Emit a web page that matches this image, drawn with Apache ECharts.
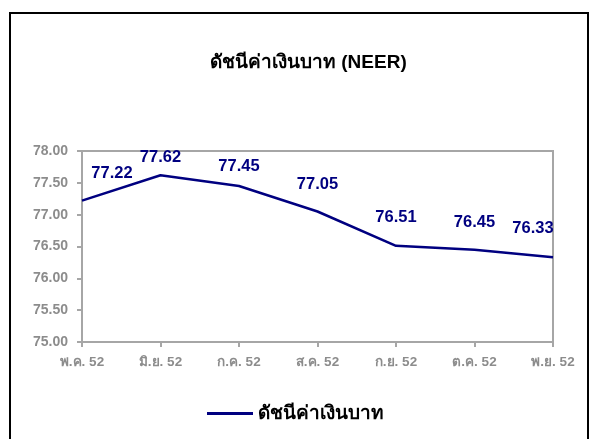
<!DOCTYPE html>
<html>
<head>
<meta charset="utf-8">
<script src="https://cdn.jsdelivr.net/npm/echarts@6/dist/echarts.min.js"></script>
<style>
  html, body { margin: 0; padding: 0; background: #fff; }
  #chart { width: 590px; height: 439px; }
</style>
</head>
<body>
<div id="chart"></div>
<script>
const categories = ['พ.ค. 52', 'มิ.ย. 52', 'ก.ค. 52', 'ส.ค. 52', 'ก.ย. 52', 'ต.ค. 52', 'พ.ย. 52'];
const neer = [77.22, 77.62, 77.45, 77.05, 76.51, 76.45, 76.33];
const seriesName = 'ดัชนีค่าเงินบาท';
const titleText = 'ดัชนีค่าเงินบาท (NEER)';

const font = "Arial, 'Liberation Sans', 'Noto Sans', sans-serif";
// label nudges so the edge labels sit inside the plot like the original
const labelOffsets = [[30, 0], [0, 10], [0, 8], [0, 0], [0, -1], [0, 0], [-20, -1]];

const chart = echarts.init(document.getElementById('chart'));
chart.setOption({
  animation: false,
  textStyle: { fontFamily: font },
  graphic: [{
    type: 'rect',
    shape: { x: 10, y: 13, width: 578, height: 440 },
    style: { fill: 'none', stroke: '#000', lineWidth: 2 }
  }],
  title: {
    text: titleText,
    left: 205,
    top: 48,
    textStyle: { fontSize: 19, fontWeight: 'bold', color: '#000', fontFamily: font }
  },
  legend: {
    bottom: 11,
    left: 202,
    itemWidth: 46,
    itemHeight: 3,
    itemGap: 8,
    icon: 'rect',
    textStyle: { fontSize: 19, fontWeight: 'bold', color: '#000', fontFamily: font },
    data: [{ name: seriesName, itemStyle: { color: '#000080' } }]
  },
  grid: {
    left: 82, right: 37, top: 151, bottom: 97,
    show: true, borderColor: '#a6a6a6', borderWidth: 2, backgroundColor: 'transparent'
  },
  xAxis: {
    type: 'category',
    data: categories,
    boundaryGap: false,
    axisLine: { lineStyle: { color: '#a6a6a6', width: 2 } },
    axisTick: { show: true, length: 5, lineStyle: { color: '#a6a6a6', width: 2 } },
    axisLabel: { color: '#8c8c8c', fontSize: 13.5, fontWeight: 'bold', margin: 13, fontFamily: font },
    splitLine: { show: false }
  },
  yAxis: {
    type: 'value',
    min: 75, max: 78, interval: 0.5,
    axisLine: { show: true, lineStyle: { color: '#a6a6a6', width: 2 } },
    axisTick: { show: true, length: 5, lineStyle: { color: '#a6a6a6', width: 2 } },
    axisLabel: {
      color: '#8c8c8c', fontSize: 14, fontWeight: 'bold', margin: 14, fontFamily: font,
      formatter: v => v.toFixed(2)
    },
    splitLine: { show: false }
  },
  series: [{
    name: seriesName,
    type: 'line',
    data: neer.map((v, i) => ({ value: v, label: { offset: labelOffsets[i] } })),
    symbol: 'circle',
    symbolSize: 2,
    showSymbol: true,
    lineStyle: { color: '#000080', width: 2.5 },
    itemStyle: { color: 'rgba(0,0,0,0)' },
    label: {
      show: true,
      position: 'top',
      distance: 18,
      color: '#000080',
      fontSize: 16.5,
      fontWeight: 'bold',
      fontFamily: font,
      formatter: p => p.value.toFixed(2)
    }
  }]
});
</script>
</body>
</html>
